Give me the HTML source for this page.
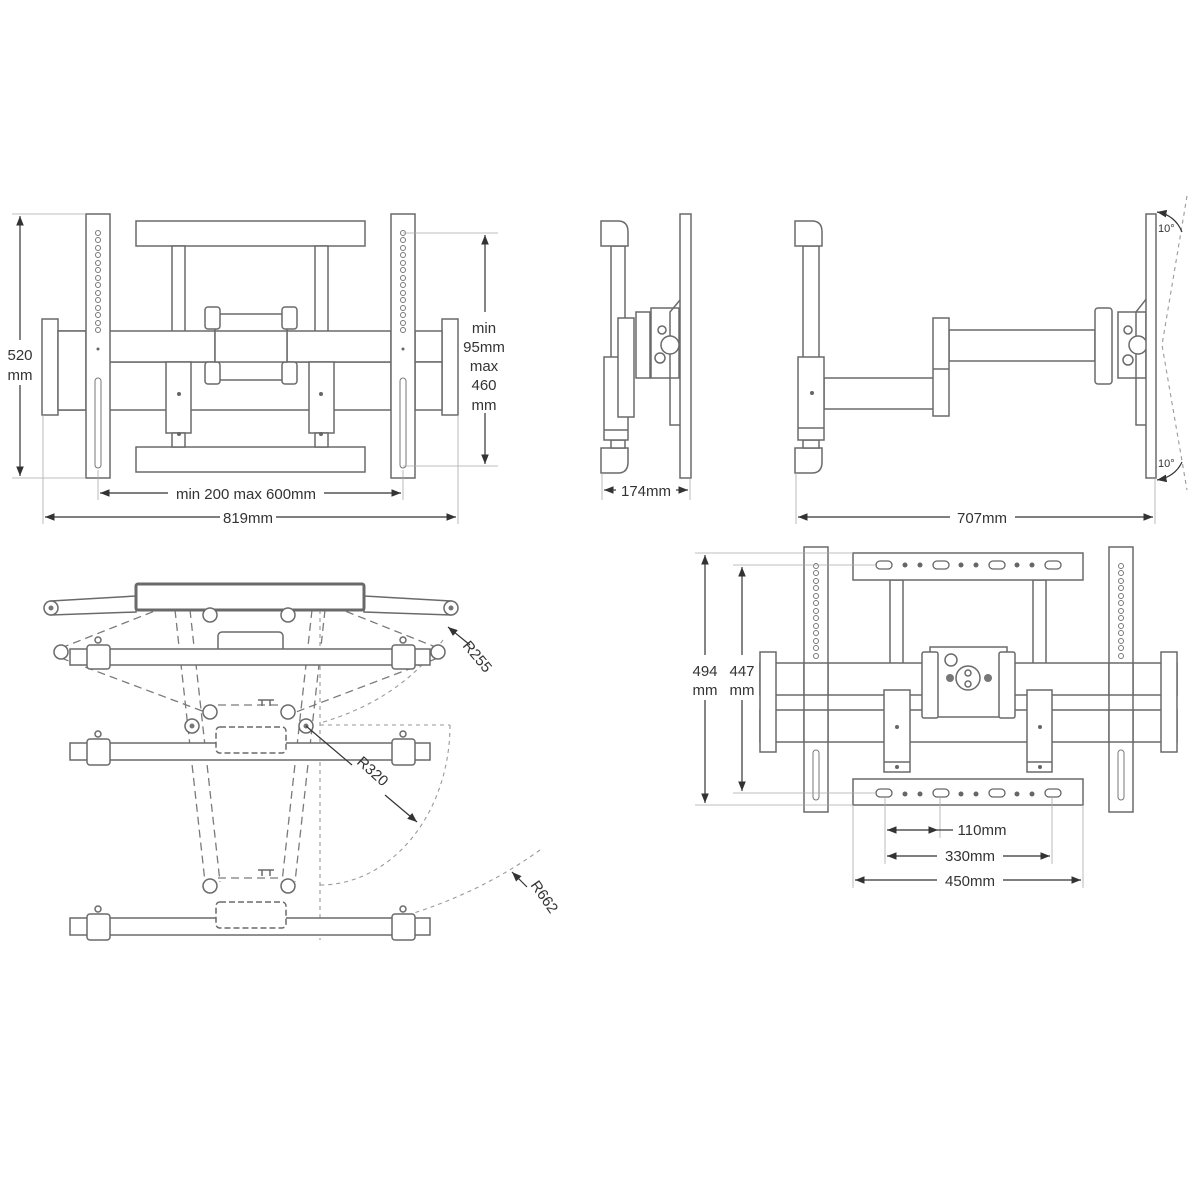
<!DOCTYPE html>
<html><head><meta charset="utf-8"><style>
html,body{margin:0;padding:0;background:#fff}
svg{display:block}
.s{fill:#fff;stroke:#6a6a6a;stroke-width:1.5}
.n{fill:none;stroke:#6a6a6a;stroke-width:1.5}
.d{fill:none;stroke:#7a7a7a;stroke-width:1.3;stroke-dasharray:8 5}
.o{fill:none;stroke:#999;stroke-width:1.1;stroke-dasharray:4 4}
.m{fill:none;stroke:#aaa;stroke-width:0.8}
.a{fill:none;stroke:#333;stroke-width:1.2}
text{font-family:"Liberation Sans",sans-serif;font-size:15px;fill:#333}
</style></head><body>
<svg width="1200" height="1200" viewBox="0 0 1200 1200">
<defs>
<marker id="ar" viewBox="0 0 10 10" refX="10" refY="5" markerWidth="8" markerHeight="8" orient="auto-start-reverse"><path d="M0,1 L10,5 L0,9 z" fill="#333"/></marker>
</defs>

<!-- ===== TOP LEFT FRONT VIEW ===== -->
<g>
<rect class="s" x="136" y="221" width="229" height="25"/>
<rect class="s" x="136" y="447" width="229" height="25"/>
<rect class="s" x="172" y="246" width="13" height="86"/>
<rect class="s" x="315" y="246" width="13" height="86"/>
<rect class="s" x="58" y="362" width="333" height="48"/>
<rect class="s" x="58" y="331" width="333" height="31"/>
<rect class="s" x="42" y="319" width="16" height="96"/>
<rect class="s" x="442" y="319" width="16" height="96"/>
<rect class="s" x="415" y="331" width="27" height="31"/>
<rect class="s" x="415" y="362" width="27" height="48"/>
<rect class="s" x="58" y="331" width="28" height="79"/>
<rect class="s" x="166" y="362" width="25" height="71"/>
<rect class="s" x="309" y="362" width="25" height="71"/>
<rect class="s" x="172" y="433" width="13" height="14"/>
<rect class="s" x="315" y="433" width="13" height="14"/>
<circle cx="179" cy="394" r="2" fill="#666"/><circle cx="321" cy="394" r="2" fill="#666"/>
<circle cx="179" cy="434" r="2" fill="#666"/><circle cx="321" cy="434" r="2" fill="#666"/>
<rect class="s" x="215" y="314" width="72" height="66"/>
<rect class="s" x="205" y="307" width="15" height="22" rx="3"/>
<rect class="s" x="282" y="307" width="15" height="22" rx="3"/>
<rect class="s" x="205" y="362" width="15" height="22" rx="3"/>
<rect class="s" x="282" y="362" width="15" height="22" rx="3"/>
<rect class="s" x="215" y="331" width="72" height="31"/>
<rect class="s" x="86" y="214" width="24" height="264"/>
<rect class="s" x="391" y="214" width="24" height="264"/>
<g fill="none" stroke="#777" stroke-width="1">
<circle cx="98" cy="233" r="2.5"/><circle cx="98" cy="240" r="2.5"/><circle cx="98" cy="248" r="2.5"/><circle cx="98" cy="255" r="2.5"/><circle cx="98" cy="263" r="2.5"/><circle cx="98" cy="270" r="2.5"/><circle cx="98" cy="278" r="2.5"/><circle cx="98" cy="285" r="2.5"/><circle cx="98" cy="293" r="2.5"/><circle cx="98" cy="300" r="2.5"/><circle cx="98" cy="308" r="2.5"/><circle cx="98" cy="315" r="2.5"/><circle cx="98" cy="323" r="2.5"/><circle cx="98" cy="330" r="2.5"/>
<circle cx="403" cy="233" r="2.5"/><circle cx="403" cy="240" r="2.5"/><circle cx="403" cy="248" r="2.5"/><circle cx="403" cy="255" r="2.5"/><circle cx="403" cy="263" r="2.5"/><circle cx="403" cy="270" r="2.5"/><circle cx="403" cy="278" r="2.5"/><circle cx="403" cy="285" r="2.5"/><circle cx="403" cy="293" r="2.5"/><circle cx="403" cy="300" r="2.5"/><circle cx="403" cy="308" r="2.5"/><circle cx="403" cy="315" r="2.5"/><circle cx="403" cy="323" r="2.5"/><circle cx="403" cy="330" r="2.5"/>
<rect x="95" y="378" width="6" height="90" rx="3"/><rect x="400" y="378" width="6" height="90" rx="3"/>
</g>
<circle cx="98" cy="349" r="1.5" fill="#666"/><circle cx="403" cy="349" r="1.5" fill="#666"/>
<!-- dims -->
<line class="m" x1="12" y1="214" x2="86" y2="214"/><line class="m" x1="12" y1="478" x2="86" y2="478"/>
<line class="a" x1="20" y1="216" x2="20" y2="340" marker-start="url(#ar)"/><line class="a" x1="20" y1="385" x2="20" y2="476" marker-end="url(#ar)"/>
<text x="20" y="360" text-anchor="middle">520</text><text x="20" y="380" text-anchor="middle">mm</text>
<line class="m" x1="403" y1="233" x2="498" y2="233"/><line class="m" x1="403" y1="466" x2="498" y2="466"/>
<line class="a" x1="485" y1="235" x2="485" y2="312" marker-start="url(#ar)"/><line class="a" x1="485" y1="413" x2="485" y2="464" marker-end="url(#ar)"/>
<text x="484" y="333" text-anchor="middle">min</text><text x="484" y="352" text-anchor="middle">95mm</text><text x="484" y="371" text-anchor="middle">max</text><text x="484" y="390" text-anchor="middle">460</text><text x="484" y="410" text-anchor="middle">mm</text>
<line class="m" x1="98" y1="470" x2="98" y2="500"/><line class="m" x1="403" y1="470" x2="403" y2="500"/>
<line class="m" x1="43" y1="415" x2="43" y2="524"/><line class="m" x1="458" y1="415" x2="458" y2="524"/>
<line class="a" x1="100" y1="493" x2="168" y2="493" marker-start="url(#ar)"/><line class="a" x1="324" y1="493" x2="401" y2="493" marker-end="url(#ar)"/>
<text x="246" y="499" text-anchor="middle">min 200 max 600mm</text>
<line class="a" x1="45" y1="517" x2="220" y2="517" marker-start="url(#ar)"/><line class="a" x1="276" y1="517" x2="456" y2="517" marker-end="url(#ar)"/>
<text x="248" y="523" text-anchor="middle">819mm</text>
</g>

<!-- ===== SIDE VIEW 1 ===== -->
<g>
<rect class="s" x="611" y="246" width="14" height="112"/>
<path class="s" d="M601,221 H618 Q628,221 628,232 V246 H601 Z"/>
<path class="s" d="M601,473 H618 Q628,473 628,462 V448 H601 Z"/>
<rect class="s" x="611" y="440" width="14" height="8"/>
<rect class="s" x="651" y="308" width="28" height="70"/>
<path class="n" d="M680,300 L670,312 V425 H680"/>
<rect class="s" x="636" y="312" width="14" height="66"/>
<circle class="s" cx="670" cy="345" r="9"/>
<circle class="s" cx="660" cy="358" r="5"/><circle class="s" cx="662" cy="330" r="4"/>
<rect class="s" x="604" y="357" width="24" height="83"/>
<line class="n" x1="604" y1="430" x2="628" y2="430"/>
<rect class="s" x="618" y="318" width="16" height="99"/>
<rect class="s" x="680" y="214" width="11" height="264"/>
<line class="m" x1="602" y1="473" x2="602" y2="500"/><line class="m" x1="690" y1="478" x2="690" y2="500"/>
<line class="a" x1="604" y1="490" x2="616" y2="490" marker-start="url(#ar)"/><line class="a" x1="676" y1="490" x2="688" y2="490" marker-end="url(#ar)"/>
<text x="646" y="496" text-anchor="middle">174mm</text>
</g>

<!-- ===== SIDE VIEW 2 ===== -->
<g>
<rect class="s" x="803" y="246" width="16" height="112"/>
<path class="s" d="M795,221 H812 Q822,221 822,232 V246 H795 Z"/>
<path class="s" d="M795,473 H812 Q822,473 822,462 V448 H795 Z"/>
<rect class="s" x="803" y="440" width="16" height="8"/>
<rect class="s" x="824" y="378" width="110" height="31"/>
<rect class="s" x="949" y="330" width="146" height="31"/>
<rect class="s" x="933" y="318" width="16" height="98"/>
<line class="n" x1="933" y1="369" x2="949" y2="369"/>
<rect class="s" x="798" y="357" width="26" height="83"/>
<line class="n" x1="798" y1="428" x2="824" y2="428"/>
<circle cx="812" cy="393" r="2" fill="#666"/>
<rect class="s" x="1118" y="312" width="28" height="66"/>
<path class="n" d="M1147,298 L1136,312 V425 H1147"/>
<rect class="s" x="1095" y="308" width="17" height="76" rx="3"/>
<circle class="s" cx="1138" cy="345" r="9"/>
<circle class="s" cx="1128" cy="360" r="5"/><circle class="s" cx="1128" cy="330" r="4"/>
<rect class="s" x="1146" y="214" width="10" height="264"/>
<path class="o" d="M1187,196 L1162,345 L1187,490"/>
<path class="a" d="M1157,212 Q1175,215 1182,232" marker-start="url(#ar)" stroke-width="1"/>
<path class="a" d="M1157,480 Q1175,477 1182,462" marker-start="url(#ar)" stroke-width="1"/>
<text x="1158" y="232" style="font-size:11px">10°</text>
<text x="1158" y="467" style="font-size:11px">10°</text>
<line class="m" x1="796" y1="473" x2="796" y2="524"/><line class="m" x1="1155" y1="478" x2="1155" y2="524"/>
<line class="a" x1="798" y1="517" x2="950" y2="517" marker-start="url(#ar)"/><line class="a" x1="1015" y1="517" x2="1153" y2="517" marker-end="url(#ar)"/>
<text x="982" y="523" text-anchor="middle">707mm</text>
</g>

<!-- ===== BOTTOM LEFT TOP VIEW ===== -->
<g>
<!-- arcs / construction -->
<path class="o" d="M320,610 V940"/>
<path class="o" d="M320,725 H450"/>
<path class="o" d="M450,725 A130,160 0 0 1 320,885"/>
<path class="o" d="M443,640 Q400,700 320,723"/>
<path class="o" d="M540,850 Q450,915 320,935"/>
<!-- dashed positions -->
<path class="d" d="M61,648 L170,605 M61,658 L205,712 M438,648 L330,605 M438,658 L296,712"/>
<path class="d" d="M175,610 L205,882 M190,610 L220,882 M325,610 L295,882 M312,610 L282,882"/>
<path class="d" d="M218,705 H282 M218,878 H282"/>
<path class="n" d="M258,700 h16 M262,700 v6 M270,700 v6 M258,870 h16 M262,870 v6 M270,870 v6"/>
<!-- top link arms -->
<path class="s" d="M51,601 L136,596 V612 L51,615 Z"/>
<path class="s" d="M451,601 L364,596 V612 L451,615 Z"/>
<circle class="s" cx="51" cy="608" r="7"/><circle cx="51" cy="608" r="2.5" fill="#777"/>
<circle class="s" cx="451" cy="608" r="7"/><circle cx="451" cy="608" r="2.5" fill="#777"/>
<rect class="s" x="136" y="584" width="228" height="26" rx="2" style="stroke-width:3"/>
<circle class="s" cx="210" cy="615" r="7"/><circle class="s" cx="288" cy="615" r="7"/>
<rect class="s" x="218" y="632" width="65" height="26" rx="4"/>
<!-- position 1 bar -->
<rect class="s" x="70" y="649" width="360" height="16"/>
<rect class="s" x="87" y="645" width="23" height="24" rx="3"/><rect class="s" x="392" y="645" width="23" height="24" rx="3"/>
<circle class="s" cx="61" cy="652" r="7"/><circle class="s" cx="438" cy="652" r="7"/>
<circle class="s" cx="98" cy="640" r="3"/><circle class="s" cx="403" cy="640" r="3"/>
<!-- middle -->
<circle class="s" cx="210" cy="712" r="7"/><circle class="s" cx="288" cy="712" r="7"/>
<circle class="s" cx="192" cy="726" r="7"/><circle class="s" cx="306" cy="726" r="7"/>
<circle cx="306" cy="726" r="2.5" fill="#777"/><circle cx="192" cy="726" r="2.5" fill="#777"/>
<rect class="s" x="70" y="743" width="360" height="17"/>
<rect class="s" x="87" y="739" width="23" height="26" rx="3"/><rect class="s" x="392" y="739" width="23" height="26" rx="3"/>
<circle class="s" cx="98" cy="734" r="3"/><circle class="s" cx="403" cy="734" r="3"/>
<rect class="s" x="216" y="727" width="70" height="26" rx="4" style="stroke-dasharray:6 3"/>
<!-- bottom -->
<circle class="s" cx="210" cy="886" r="7"/><circle class="s" cx="288" cy="886" r="7"/>
<rect class="s" x="70" y="918" width="360" height="17"/>
<rect class="s" x="87" y="914" width="23" height="26" rx="3"/><rect class="s" x="392" y="914" width="23" height="26" rx="3"/>
<circle class="s" cx="98" cy="909" r="3"/><circle class="s" cx="403" cy="909" r="3"/>
<rect class="s" x="216" y="902" width="70" height="26" rx="4" style="stroke-dasharray:6 3"/>
<!-- labels -->
<line class="a" x1="470" y1="645" x2="448" y2="627" marker-end="url(#ar)"/>
<text transform="translate(462,646) rotate(50)">R255</text>
<line class="a" x1="306" y1="726" x2="352" y2="765"/>
<line class="a" x1="385" y1="795" x2="417" y2="822" marker-end="url(#ar)"/>
<text transform="translate(356,763) rotate(42)">R320</text>
<line class="a" x1="527" y1="887" x2="512" y2="872" marker-end="url(#ar)"/>
<text transform="translate(530,885) rotate(55)">R662</text>
</g>

<!-- ===== BOTTOM RIGHT FRONT VIEW ===== -->
<g>
<rect class="s" x="890" y="580" width="13" height="112"/>
<rect class="s" x="1033" y="580" width="13" height="112"/>
<rect class="s" x="760" y="663" width="417" height="32"/>
<rect class="s" x="760" y="710" width="417" height="32"/>
<rect class="s" x="760" y="652" width="16" height="100"/>
<rect class="s" x="1161" y="652" width="16" height="100"/>
<rect class="s" x="804" y="547" width="24" height="265"/>
<rect class="s" x="1109" y="547" width="24" height="265"/>
<rect class="s" x="804" y="663" width="24" height="32"/><rect class="s" x="1109" y="663" width="24" height="32"/>
<rect class="s" x="804" y="710" width="24" height="32"/><rect class="s" x="1109" y="710" width="24" height="32"/>
<g fill="none" stroke="#777" stroke-width="1">
<circle cx="816" cy="566" r="2.5"/><circle cx="816" cy="573" r="2.5"/><circle cx="816" cy="581" r="2.5"/><circle cx="816" cy="588" r="2.5"/><circle cx="816" cy="596" r="2.5"/><circle cx="816" cy="603" r="2.5"/><circle cx="816" cy="611" r="2.5"/><circle cx="816" cy="618" r="2.5"/><circle cx="816" cy="626" r="2.5"/><circle cx="816" cy="633" r="2.5"/><circle cx="816" cy="641" r="2.5"/><circle cx="816" cy="648" r="2.5"/><circle cx="816" cy="656" r="2.5"/>
<circle cx="1121" cy="566" r="2.5"/><circle cx="1121" cy="573" r="2.5"/><circle cx="1121" cy="581" r="2.5"/><circle cx="1121" cy="588" r="2.5"/><circle cx="1121" cy="596" r="2.5"/><circle cx="1121" cy="603" r="2.5"/><circle cx="1121" cy="611" r="2.5"/><circle cx="1121" cy="618" r="2.5"/><circle cx="1121" cy="626" r="2.5"/><circle cx="1121" cy="633" r="2.5"/><circle cx="1121" cy="641" r="2.5"/><circle cx="1121" cy="648" r="2.5"/><circle cx="1121" cy="656" r="2.5"/>
<rect x="813" y="750" width="6" height="50" rx="3"/><rect x="1118" y="750" width="6" height="50" rx="3"/>
</g>
<rect class="s" x="884" y="690" width="26" height="82"/>
<rect class="s" x="1027" y="690" width="25" height="82"/>
<line class="n" x1="884" y1="762" x2="910" y2="762"/><line class="n" x1="1027" y1="762" x2="1052" y2="762"/>
<circle cx="897" cy="727" r="2" fill="#666"/><circle cx="1040" cy="727" r="2" fill="#666"/>
<circle cx="897" cy="767" r="2" fill="#666"/><circle cx="1040" cy="767" r="2" fill="#666"/>
<rect class="s" x="930" y="647" width="77" height="70"/>
<rect class="s" x="922" y="652" width="16" height="66" rx="2"/><rect class="s" x="999" y="652" width="16" height="66" rx="2"/>
<circle class="s" cx="951" cy="660" r="6"/>
<circle class="s" cx="968" cy="678" r="12"/>
<circle class="s" cx="968" cy="673" r="3"/><circle class="s" cx="968" cy="684" r="3"/>
<circle cx="950" cy="678" r="4" fill="#777"/><circle cx="988" cy="678" r="4" fill="#777"/>
<rect class="s" x="853" y="553" width="230" height="27"/>
<rect class="s" x="853" y="779" width="230" height="26"/>
<g fill="none" stroke="#666" stroke-width="1.3">
<rect x="876" y="561" width="16" height="8" rx="4"/><rect x="933" y="561" width="16" height="8" rx="4"/><rect x="989" y="561" width="16" height="8" rx="4"/><rect x="1045" y="561" width="16" height="8" rx="4"/>
<rect x="876" y="789" width="16" height="8" rx="4"/><rect x="933" y="789" width="16" height="8" rx="4"/><rect x="989" y="789" width="16" height="8" rx="4"/><rect x="1045" y="789" width="16" height="8" rx="4"/>
</g>
<g fill="#666">
<circle cx="905" cy="565" r="2.5"/><circle cx="920" cy="565" r="2.5"/><circle cx="961" cy="565" r="2.5"/><circle cx="976" cy="565" r="2.5"/><circle cx="1017" cy="565" r="2.5"/><circle cx="1032" cy="565" r="2.5"/>
<circle cx="905" cy="794" r="2.5"/><circle cx="920" cy="794" r="2.5"/><circle cx="961" cy="794" r="2.5"/><circle cx="976" cy="794" r="2.5"/><circle cx="1017" cy="794" r="2.5"/><circle cx="1032" cy="794" r="2.5"/>
</g>
<!-- dims -->
<line class="m" x1="695" y1="553" x2="853" y2="553"/><line class="m" x1="695" y1="805" x2="853" y2="805"/>
<line class="m" x1="733" y1="565" x2="876" y2="565"/><line class="m" x1="733" y1="793" x2="876" y2="793"/>
<line class="a" x1="705" y1="555" x2="705" y2="655" marker-start="url(#ar)"/><line class="a" x1="705" y1="700" x2="705" y2="803" marker-end="url(#ar)"/>
<line class="a" x1="742" y1="567" x2="742" y2="655" marker-start="url(#ar)"/><line class="a" x1="742" y1="700" x2="742" y2="791" marker-end="url(#ar)"/>
<text x="705" y="676" text-anchor="middle">494</text><text x="705" y="695" text-anchor="middle">mm</text>
<text x="742" y="676" text-anchor="middle">447</text><text x="742" y="695" text-anchor="middle">mm</text>
<line class="m" x1="853" y1="805" x2="853" y2="888"/><line class="m" x1="1083" y1="805" x2="1083" y2="888"/>
<line class="m" x1="885" y1="797" x2="885" y2="864"/><line class="m" x1="1052" y1="797" x2="1052" y2="864"/>
<line class="m" x1="940" y1="797" x2="940" y2="838"/>
<line class="a" x1="887" y1="830" x2="938" y2="830" marker-start="url(#ar)" marker-end="url(#ar)"/>
<line class="a" x1="938" y1="830" x2="953" y2="830"/>
<text x="982" y="835" text-anchor="middle">110mm</text>
<line class="a" x1="887" y1="856" x2="937" y2="856" marker-start="url(#ar)"/><line class="a" x1="1003" y1="856" x2="1050" y2="856" marker-end="url(#ar)"/>
<text x="970" y="861" text-anchor="middle">330mm</text>
<line class="a" x1="855" y1="880" x2="937" y2="880" marker-start="url(#ar)"/><line class="a" x1="1003" y1="880" x2="1081" y2="880" marker-end="url(#ar)"/>
<text x="970" y="886" text-anchor="middle">450mm</text>
</g>
</svg>
</body></html>
